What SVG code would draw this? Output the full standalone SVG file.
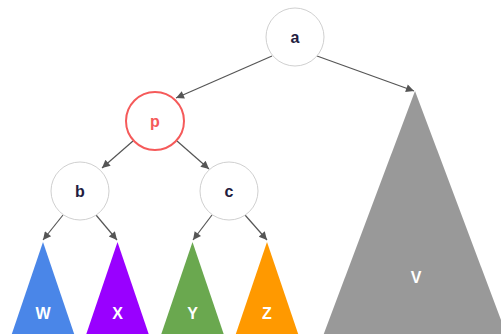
<svg xmlns="http://www.w3.org/2000/svg" width="501" height="334" viewBox="0 0 501 334">
<style>
.node{fill:#fff;stroke:#d0d0d0;stroke-width:1}
.lbl{font-family:"Liberation Sans",Arial,sans-serif;font-weight:bold;font-size:16px;fill:#231c3f;text-anchor:middle;dominant-baseline:central}
.tl{font-family:"Liberation Sans",Arial,sans-serif;font-weight:bold;font-size:16px;fill:#fff;text-anchor:middle;dominant-baseline:central}
.edge{stroke:#555;stroke-width:1.2;fill:none;marker-end:url(#ah)}
</style>
<defs>
<marker id="ah" viewBox="0 0 10 10" refX="10" refY="5" markerWidth="10" markerHeight="8" markerUnits="userSpaceOnUse" orient="auto">
<path d="M0,0 L10,5 L0,10 z" fill="#555"/>
</marker>
</defs>
<rect width="501" height="334" fill="#fff"/>
<g id="connectors">
<line class="edge" x1="272" y1="56" x2="176" y2="98"/>
<line class="edge" x1="317" y1="56" x2="414" y2="91"/>
<line class="edge" x1="133" y1="141" x2="102" y2="168"/>
<line class="edge" x1="177" y1="141" x2="209" y2="169"/>
<line class="edge" x1="63" y1="215" x2="43" y2="240"/>
<line class="edge" x1="96" y1="215" x2="117" y2="240"/>
<line class="edge" x1="212" y1="215" x2="193" y2="240"/>
<line class="edge" x1="245" y1="215" x2="267" y2="240"/>
</g>
<g id="node-a"><circle class="node" cx="295" cy="37" r="29"/><text class="lbl" x="295" y="37">a</text></g>
<g id="node-p"><circle cx="155" cy="121" r="29" fill="#fff" stroke="#f55a5a" stroke-width="2"/><text class="lbl" x="155" y="121" style="fill:#f55a5a">p</text></g>
<g id="node-b"><circle class="node" cx="80" cy="191" r="29"/><text class="lbl" x="80" y="191">b</text></g>
<g id="node-c"><circle class="node" cx="229" cy="191" r="29"/><text class="lbl" x="229" y="191">c</text></g>
<g id="node-W"><polygon points="43,242 3,360 83,360" fill="#4a86e8"/><text class="tl" x="43" y="313">W</text></g>
<g id="node-X"><polygon points="117.5,242 77.5,360 157.5,360" fill="#9900ff"/><text class="tl" x="117.5" y="313">X</text></g>
<g id="node-Y"><polygon points="192.5,242 152.5,360 232.5,360" fill="#6aa84f"/><text class="tl" x="192.5" y="313">Y</text></g>
<g id="node-Z"><polygon points="267,242 227,360 307,360" fill="#ff9900"/><text class="tl" x="267" y="313">Z</text></g>
<g id="node-V"><polygon points="415,91 314,360 516,360" fill="#999999"/><text class="tl" x="416" y="277">V</text></g>
</svg>
